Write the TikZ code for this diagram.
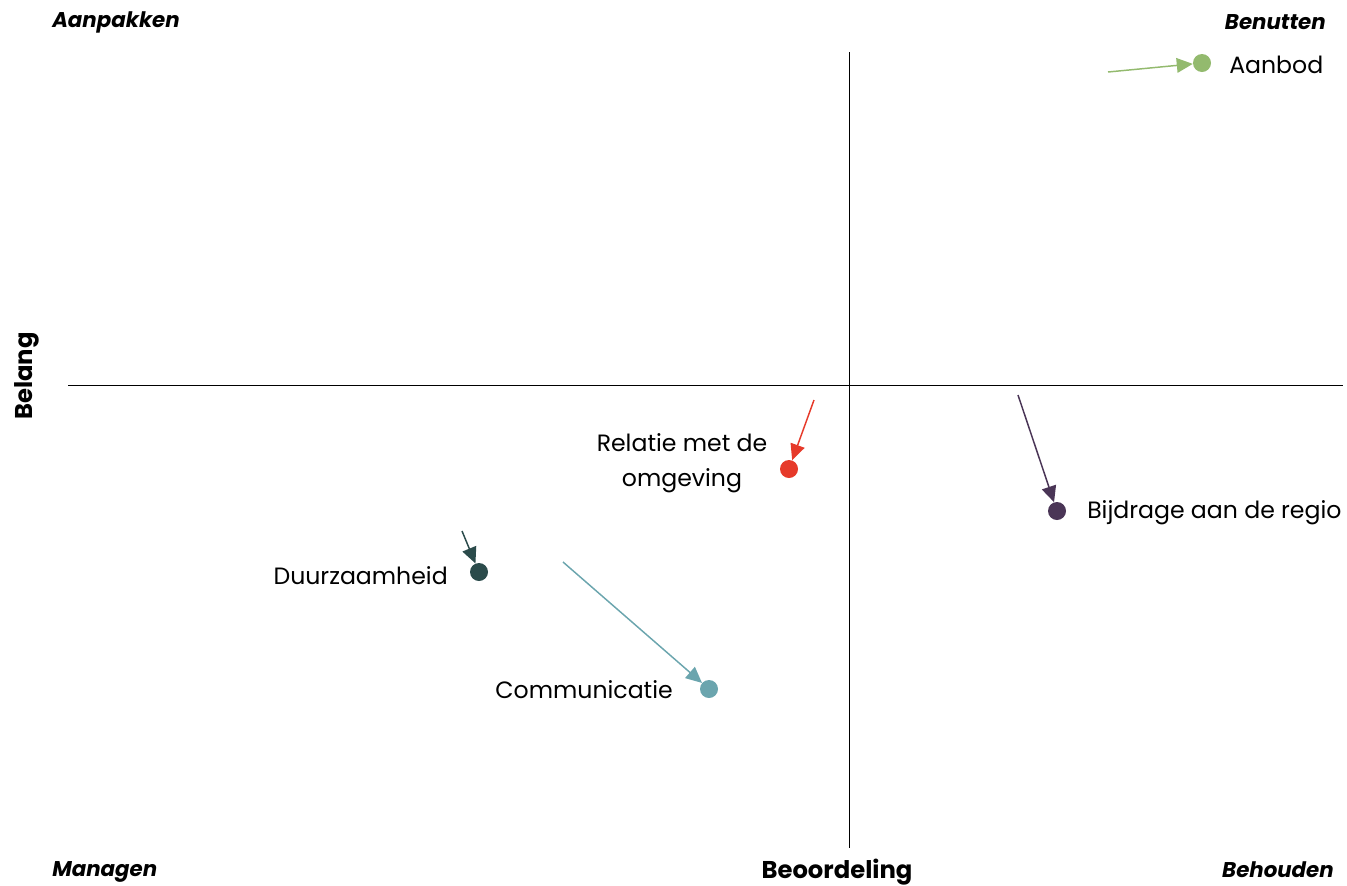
\documentclass[tikz,border=0pt]{standalone}
\usepackage{fontspec}
\setmainfont{Poppins}
\definecolor{cgreen}{HTML}{93BA6E}
\definecolor{cred}{HTML}{E63A2A}
\definecolor{cpurple}{HTML}{4A3556}
\definecolor{cdark}{HTML}{2B4B4B}
\definecolor{cteal}{HTML}{6BA5AE}
\usetikzlibrary{arrows.meta}
\begin{document}
\begin{tikzpicture}[x=0.75pt,y=-0.75pt,
  axis/.style={draw=black,line width=0.7pt},
  dot/.style={circle,inner sep=0pt,minimum size=13.5pt},
  lbl/.style={font=\fontsize{17.7}{26}\selectfont,inner sep=0pt},
  corner/.style={font=\fontsize{16}{18}\selectfont\bfseries\itshape,inner sep=0pt},
  axlbl/.style={font=\fontsize{18.2}{20}\selectfont\bfseries,inner sep=0pt},
  arr/.style={line width=1.1pt,-{Triangle[length=12pt,width=11pt]}}]
\useasboundingbox (0,0) rectangle (1347,886);
% axes
\coordinate (vt) at (849,52);
\coordinate (vb) at (849,848);
\coordinate (hl) at (68,385);
\coordinate (hr) at (1343,385);
\draw[axis] (vt) -- (vb);
\draw[axis] (hl) -- (hr);
% corner labels
\node[corner,anchor=west] (aanpakken) at (52,22) {Aanpakken};
\node[corner,anchor=east] (benutten) at (1326,22) {Benutten};
\node[corner,anchor=west] (managen) at (52,872) {Managen};
\node[corner,anchor=east] (behouden) at (1334,870) {Behouden};
\node[axlbl] (beoordeling) at (837,872) {Beoordeling};
\node[axlbl,rotate=90] (belang) at (27,376) {Belang};
% points
\node[dot,fill=cgreen] (aanbod) at (1202,63) {};
\node[lbl,anchor=west] (aanbodl) at (1229,65) {Aanbod};
\coordinate (aanbods) at (1108,72);
\draw[arr,draw=cgreen,fill=cgreen] (aanbods) -- (aanbod);

\node[dot,fill=cred] (relatie) at (789,469) {};
\node[lbl,align=center] (relatiel) at (682,463) {Relatie met de\\omgeving};
\coordinate (relaties) at (814,400);
\draw[arr,draw=cred,fill=cred] (relaties) -- (relatie);

\node[dot,fill=cpurple] (bijdrage) at (1057,511) {};
\node[lbl,anchor=west] (bijdragel) at (1087,513) {Bijdrage aan de regio};
\coordinate (bijdrages) at (1018,395);
\draw[arr,draw=cpurple,fill=cpurple] (bijdrages) -- (bijdrage);

\node[dot,fill=cdark] (duurz) at (479,572) {};
\node[lbl,anchor=east] (duurzl) at (448,576) {Duurzaamheid};
\coordinate (duurzs) at (462,531);
\draw[arr,draw=cdark,fill=cdark] (duurzs) -- (duurz);

\node[dot,fill=cteal] (comm) at (709,689) {};
\node[lbl,anchor=east] (comml) at (673,690) {Communicatie};
\coordinate (comms) at (563,562);
\draw[arr,draw=cteal,fill=cteal] (comms) -- (comm);
\end{tikzpicture}
\end{document}
